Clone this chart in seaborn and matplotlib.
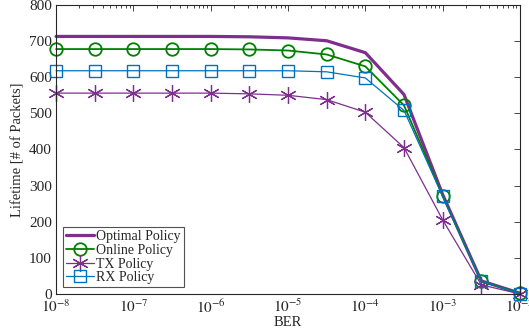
import numpy as np
import pandas as pd
import matplotlib
matplotlib.use("Agg")
import matplotlib.pyplot as plt
import seaborn as sns

ber = [1e-8, 10**-7.5, 1e-7, 10**-6.5, 1e-6, 10**-5.5, 1e-5, 10**-4.5, 1e-4, 10**-3.5, 1e-3, 10**-2.5, 1e-2]
optimal = [713, 713, 713, 713, 713, 712, 709, 701, 668, 552, 275, 36, 2]
online = [678, 678, 678, 678, 678, 677, 674, 663, 630, 522, 272, 35, 2]
tx = [556, 556, 556, 556, 556, 554, 550, 538, 503, 405, 205, 25, 0]
rx = [618, 618, 618, 618, 618, 618, 618, 615, 598, 508, 270, 35, 1]

sns.set_style("white")
plt.rcParams['font.family'] = ['Liberation Serif', 'DejaVu Serif']
plt.rcParams['mathtext.fontset'] = 'stix'

fig = plt.figure(figsize=(5.29, 3.34), dpi=100)
ax = fig.add_axes([0.106, 0.12, 0.877, 0.865])

df = pd.DataFrame({"BER": ber, "Optimal": optimal, "Online": online, "TX": tx, "RX": rx})

sns.lineplot(data=df, x="BER", y="Optimal", ax=ax, color="#7E2F8E", lw=2.3, label="Optimal Policy", clip_on=False)
sns.lineplot(data=df, x="BER", y="Online", ax=ax, color="#008000", lw=1.3, marker="o",
             markersize=9, markerfacecolor="none", markeredgecolor="#008000", markeredgewidth=1.3,
             label="Online Policy", clip_on=False)
sns.lineplot(data=df, x="BER", y="TX", ax=ax, color="#7E2F8E", lw=0.9, marker=(6, 2, 0),
             markersize=12, markeredgecolor="#7E2F8E", markeredgewidth=0.9, label="TX Policy", clip_on=False)
sns.lineplot(data=df, x="BER", y="RX", ax=ax, color="#0072BD", lw=0.9, marker="s",
             markersize=8, markerfacecolor="none", markeredgecolor="#0072BD", markeredgewidth=1.0,
             label="RX Policy", clip_on=False)

ax.set_xscale("log")
ax.set_xlim(1e-8, 1e-2)
ax.set_ylim(0, 800)
ax.set_yticks(range(0, 801, 100))
ax.set_xticks([1e-8, 1e-7, 1e-6, 1e-5, 1e-4, 1e-3, 1e-2])
ax.set_xticklabels([r"$10^{-8}$", r"$10^{-7}$", r"$10^{-6}$", r"$10^{-5}$", r"$10^{-4}$", r"$10^{-3}$", r"$10^{-2}$"])
ax.tick_params(axis="both", which="both", direction="in", top=True, right=True, labelsize=11, colors="#262626")
ax.tick_params(which="major", length=4, width=0.6, pad=3)
ax.tick_params(which="minor", length=2, width=0.6)
ax.xaxis.set_minor_locator(matplotlib.ticker.LogLocator(base=10, subs=np.arange(2, 10), numticks=20))
for s in ax.spines.values():
    s.set_color("#262626")
    s.set_linewidth(0.8)
ax.set_xlabel("BER", fontsize=10.5, labelpad=0)
ax.set_ylabel("Lifetime [# of Packets]", fontsize=10.5, labelpad=3)
leg = ax.legend(loc="lower left", fontsize=10, frameon=True, fancybox=False, edgecolor="#262626",
                handlelength=2.0, handletextpad=0.2, borderpad=0.2, labelspacing=0.05,
                borderaxespad=0.5)
leg.get_frame().set_linewidth(0.8)
fig.savefig("out.png", dpi=100)
